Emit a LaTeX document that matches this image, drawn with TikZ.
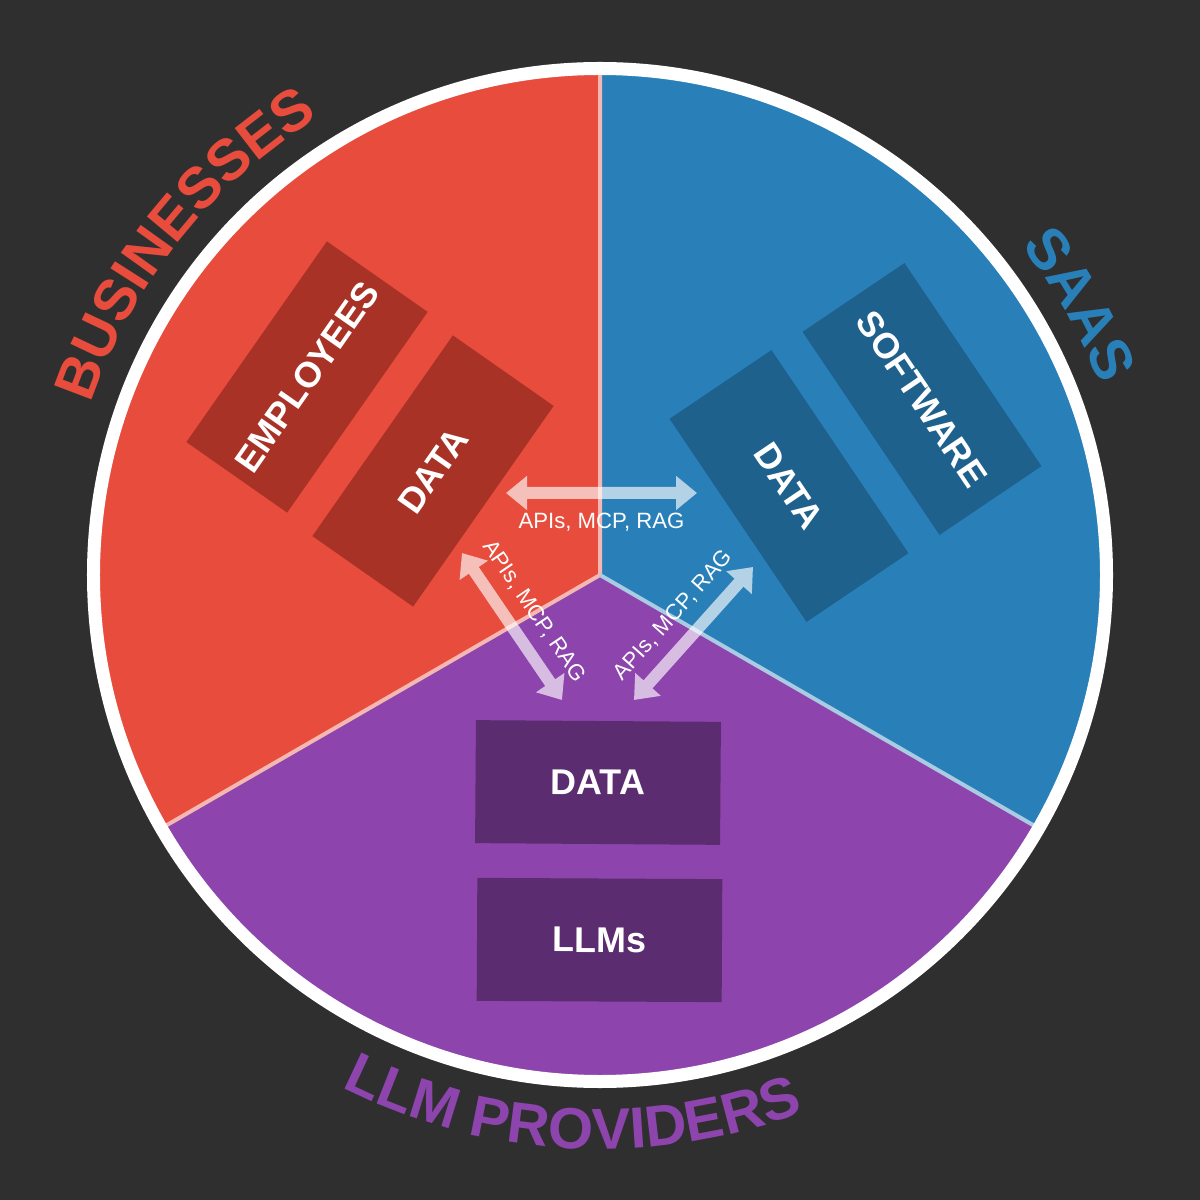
\documentclass[tikz,border=0pt]{standalone}
\usepackage{fontspec}
\setmainfont{Liberation Sans}
\definecolor{BgDark}   {RGB}{47,47,47}
\definecolor{BizRed}   {RGB}{231,76,60}
\definecolor{BizDark}  {RGB}{169,50,38}
\definecolor{BizLine}  {RGB}{245,183,177}
\definecolor{SaasBlue} {RGB}{41,128,185}
\definecolor{SaasDark} {RGB}{31,97,141}
\definecolor{SaasLine} {RGB}{169,204,227}
\definecolor{LlmPurple}{RGB}{142,68,173}
\definecolor{LlmDark}  {RGB}{91,44,111}
\usetikzlibrary{arrows.meta,decorations.text}

\begin{document}
\begin{tikzpicture}[x=0.1mm,y=0.1mm,
    block/.style={minimum width=2.45cm,minimum height=1.23cm,inner sep=0pt,
                  text=white,font=\fontsize{10.2}{12}\selectfont\bfseries},
    link/.style={{Triangle[length=2.1mm,width=3.3mm]}-{Triangle[length=2.1mm,width=3.3mm]},
                 line width=1.2mm,white},
    linklabel/.style={text=white,inner sep=0pt,font=\fontsize{6.3}{7.5}\selectfont}]
  \useasboundingbox (-600,-625) rectangle (600,575);
  \fill[BgDark] (-600,-625) rectangle (600,575);
  \coordinate (hub) at (0,0);
  %% Three sectors
  \fill[BizRed]    (hub) -- (90:506)  arc[start angle=90, end angle=210,radius=506] -- cycle;
  \fill[LlmPurple] (hub) -- (210:506) arc[start angle=210,end angle=330,radius=506] -- cycle;
  \fill[SaasBlue]  (hub) -- (330:506) arc[start angle=330,end angle=450,radius=506] -- cycle;
  %% Dividers
  \draw[BizLine,line width=0.4mm]  (hub) -- (90:506) (hub) -- (210:506);
  \draw[SaasLine,line width=0.4mm] (hub) -- (330:506);
  %% White rim
  \draw[white,line width=1.3mm] (hub) circle[radius=506.5];
  %% Curved titles
  \path[decorate,decoration={text along path,text align=center,text color=BizRed,
        text={|\fontsize{16.5}{20}\selectfont\bfseries|BUSINESSES}}]
       (181.5:537) arc[start angle=181.5,end angle=101.5,radius=537];
  \path[decorate,decoration={text along path,text align=center,text color=SaasBlue,
        text={|\fontsize{16.5}{20}\selectfont\bfseries|SAAS}}]
       (69.4:534.5) arc[start angle=69.4,end angle=-10.6,radius=534.5];
  \path[decorate,decoration={text along path,text align=center,text color=LlmPurple,
        text={|\fontsize{16.5}{20}\selectfont\bfseries|LLM PROVIDERS}}]
       (222:574) arc[start angle=222,end angle=312,radius=574];
  %% Boxes
  \node[block,fill=BizDark,rotate=55]    (bizstaff)  at (-293,198)   {EMPLOYEES};
  \node[block,fill=BizDark,rotate=55]    (bizdata)   at (-167,104)   {DATA};
  \node[block,fill=SaasDark,rotate=-56]  (saassoft)  at (322,176)    {SOFTWARE};
  \node[block,fill=SaasDark,rotate=-56]  (saasdata)  at (189,89)     {DATA};
  \node[block,fill=LlmDark,rotate=-0.4]  (llmdata)   at (-2,-207.5)  {DATA};
  \node[block,fill=LlmDark,rotate=-0.3]  (llmmodels) at (-0.5,-365)  {LLMs};
  %% Arrow ends
  \coordinate (bizL)  at (-94,82);   \coordinate (saasR) at (97,82);
  \coordinate (bizD)  at (-138,22);  \coordinate (llmL)  at (-38,-125);
  \coordinate (llmR)  at (34,-125);  \coordinate (saasD) at (153,8);
  \begin{scope}[transparency group,opacity=.65]
    \draw[link] (bizL) -- (saasR);
    \draw[link] (bizD) -- (llmL);
    \draw[link] (llmR) -- (saasD);
  \end{scope}
  \path (bizL) -- (saasR) node[linklabel,midway,below=1.9mm] (toplbl) {APIs, MCP, RAG};
  \path (bizD) -- (llmL) node[linklabel,midway,sloped,above=1.7mm] (leftlbl) {APIs, MCP, RAG};
  \path (llmR) -- (saasD) node[linklabel,midway,sloped,above=1.7mm] (rightlbl) {APIs, MCP, RAG};
\end{tikzpicture}
\end{document}
